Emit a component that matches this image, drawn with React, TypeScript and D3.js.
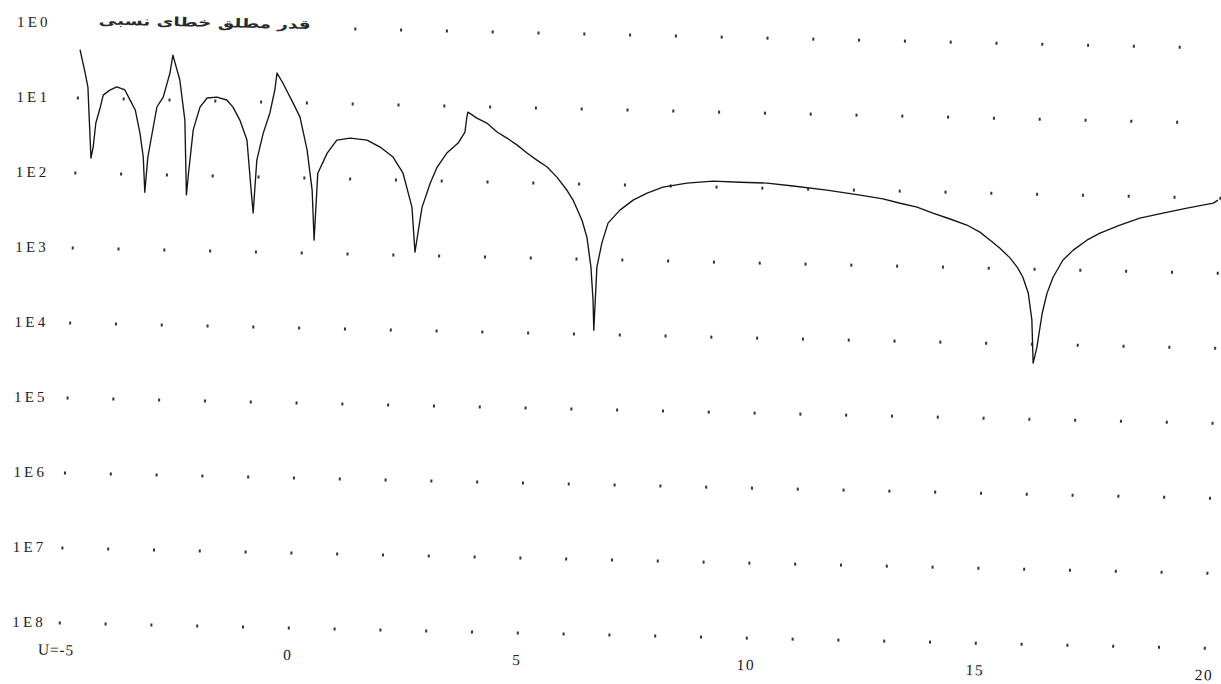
import React from "react";
import * as d3 from "d3";

const U_VALUES = [
  -4.99, -4.86, -4.79, -4.74, -4.67, -4.63, -4.59, -4.51, -4.45, -4.31, -4.16, -3.98, -3.86, -3.74, -3.62, -3.53, -3.47, -3.43, -3.27, -3.14, -3.01, -2.96, -2.79, -2.65, -2.56, -2.53, -2.46, -2.33, -2.18, -1.97, -1.75, -1.61, -1.45, -1.28, -1.16, -1.09, -1.05, -0.93, -0.8, -0.71, -0.675, -0.54, -0.3, -0.14, 0.04, 0.18, 0.26, 0.29, 0.48, 0.68, 0.97, 1.34, 1.63, 1.92, 2.15, 2.37, 2.47, 2.52, 2.59, 2.75, 2.89, 3.09, 3.33, 3.47, 3.5, 3.52, 3.72, 3.94, 4.17, 4.39, 4.62, 4.84, 5.06, 5.29, 5.51, 5.74, 5.88, 6.09, 6.21, 6.32, 6.39, 6.43, 6.45, 6.54, 6.66, 6.91, 7.19, 7.49, 7.83, 8.35, 8.92, 9.51, 10.1, 10.67, 11.41, 12.14, 12.64, 13.02, 13.39, 13.74, 14.12, 14.49, 14.78, 15.01, 15.23, 15.46, 15.62, 15.75, 15.88, 15.98, 16.04, 16.11, 16.2, 16.29, 16.41, 16.61, 16.83, 17.12, 17.4, 17.83, 18.26, 18.76, 19.28, 19.85, 19.95,
];

const ERROR_VALUES = [
  0.44, 0.216, 0.141, 0.056, 0.016, 0.0224, 0.047, 0.074, 0.111, 0.13, 0.144, 0.132, 0.097, 0.072, 0.0356, 0.0171, 0.0058, 0.0171, 0.08, 0.109, 0.229, 0.398, 0.186, 0.0546, 0.0055, 0.0108, 0.0406, 0.082, 0.109, 0.113, 0.104, 0.084, 0.0567, 0.0309, 0.0073, 0.0033, 0.0168, 0.0386, 0.072, 0.146, 0.246, 0.182, 0.099, 0.0647, 0.0236, 0.0069, 0.0015, 0.0117, 0.0218, 0.0327, 0.0351, 0.0334, 0.0272, 0.0202, 0.0124, 0.0044, 0.00111, 0.002, 0.0044, 0.0093, 0.0153, 0.0237, 0.0324, 0.0457, 0.0724, 0.0845, 0.0707, 0.061, 0.0467, 0.0391, 0.0317, 0.025, 0.0203, 0.0165, 0.0122, 0.0082, 0.0061, 0.0033, 0.00197, 0.00079, 0.00029, 0.000114, 0.00079, 0.00166, 0.00308, 0.00462, 0.00634, 0.00794, 0.00964, 0.0111, 0.012, 0.0118, 0.0117, 0.0109, 0.0098, 0.0086, 0.0078, 0.0069, 0.0062, 0.0052, 0.0044, 0.0037, 0.003, 0.00236, 0.00186, 0.00138, 0.00105, 0.00078, 0.00048, 0.00021, 0.000056, 0.000091, 0.00026, 0.00048, 0.00079, 0.00134, 0.00184, 0.00252, 0.00316, 0.00409, 0.00514, 0.00608, 0.0072, 0.00855, 0.0094,
];

const X_TICKS = [-5, 0, 5, 10, 15, 20];
const X_TICK_LABELS = ["U=-5", "0", "5", "10", "15", "20"];
const Y_DECADES = [1, 1e-1, 1e-2, 1e-3, 1e-4, 1e-5, 1e-6, 1e-7, 1e-8];
const Y_LABELS = ["1E0", "1E1", "1E2", "1E3", "1E4", "1E5", "1E6", "1E7", "1E8"];
const GRID_U = [-5, -4, -3, -2, -1, 0, 1, 2, 3, 4, 5, 6, 7, 8, 9, 10, 11, 12, 13, 14, 15, 16, 17, 18, 19, 20];
const TITLE = "قدر مطلق خطای نسبی";

export default function App() {
  const W = 1221;
  const H = 684;
  const x = d3.scaleLinear().domain([-5, 20]).range([0, 1145]);
  const y = d3.scaleLog().domain([1, 1e-8]).range([0, 600]);
  const pts = U_VALUES.map((u, i) => [u, ERROR_VALUES[i]] as [number, number]);
  const line = d3
    .line<[number, number]>()
    .x((d) => x(d[0]))
    .y((d) => y(d[1]))
    .curve(d3.curveLinear);

  const serif = "'Liberation Serif', 'DejaVu Serif', serif";

  return (
    <svg
      width={W}
      height={H}
      style={{ position: "absolute", left: 0, top: 0, background: "#fff" }}
    >
      <rect width={W} height={H} fill="#fff" />
      {Y_DECADES.map((v, k) => (
        <text
          key={"yl" + k}
          x={17 - k * 0.6}
          y={21.5 + y(v) + 5}
          fontFamily={serif}
          fontSize={15}
          letterSpacing={3.2}
          fill="#222"
        >
          {Y_LABELS[k]}
        </text>
      ))}
      <g transform="matrix(1, 0.022, -0.0345, 1, 80.5, 23)">
        {Y_DECADES.map((v, k) =>
          GRID_U.filter((u) => !(k === 0 && u < 1)).map((u) => (
            <rect
              key={"d" + k + "_" + u}
              x={x(u) - 1}
              y={y(v) - 1.5}
              width={2}
              height={3}
              fill="#333"
            />
          ))
        )}
        <path
          d={line(pts) || ""}
          fill="none"
          stroke="#151515"
          strokeWidth={1.35}
          strokeLinejoin="round"
        />
        <text
          x={124}
          y={1}
          textAnchor="middle"
          fontFamily="'DejaVu Sans', 'Noto Sans', sans-serif"
          fontWeight="bold"
          fontSize={12.5}
          textLength={212}
          lengthAdjust="spacingAndGlyphs"
          fill="#2a2a2a"
        >
          {TITLE}
        </text>
        {X_TICKS.map((t, i) => (
          <text
            key={"xt" + i}
            x={i === 0 ? x(t) + 15 : x(t)}
            y={y(1e-8) + 32}
            textAnchor={i === 0 ? "end" : "middle"}
            fontFamily={serif}
            fontSize={15.5}
            letterSpacing={i === 0 ? 0.8 : 1.5}
            fill="#222"
          >
            {X_TICK_LABELS[i]}
          </text>
        ))}
      </g>
    </svg>
  );
}
